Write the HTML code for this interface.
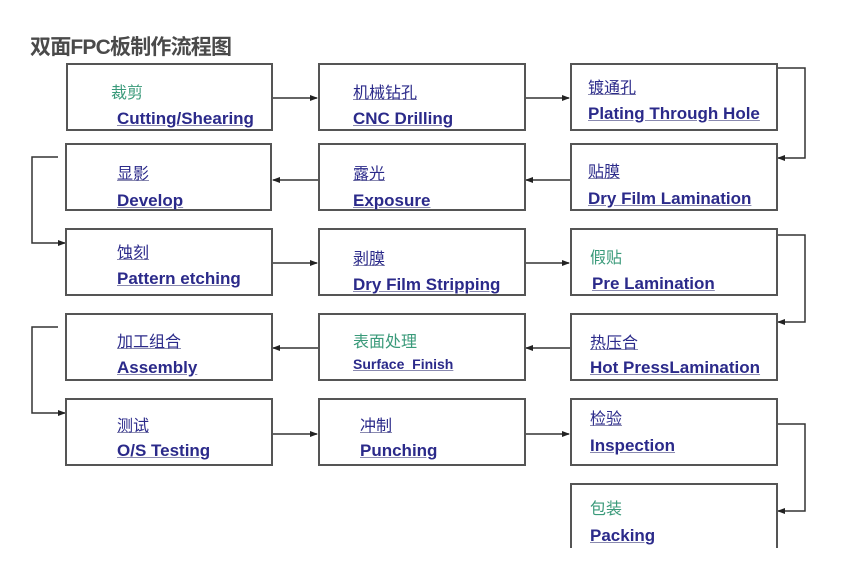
<!DOCTYPE html>
<html><head><meta charset="utf-8"><style>
body{margin:0;width:849px;height:582px;background:#fff;position:relative;overflow:hidden;font-family:"Liberation Sans","Noto Sans CJK SC",sans-serif}
.t{position:absolute;left:30px;top:31px;font-size:21px;color:#4a4a4a;font-weight:bold;letter-spacing:-0.8px}
.b{position:absolute;border:2px solid #555;box-sizing:border-box;background:#fff}
.c,.e{position:absolute;white-space:nowrap;color:#2b2a8a;text-decoration:underline;text-decoration-color:#8a8ab0}
.c{font-size:16px}
.e{font-size:17px;font-weight:bold}
.g{color:#3a9a7a;text-decoration:none}
svg{position:absolute;left:0;top:0}
</style></head><body>
<div class="t">双面FPC板制作流程图</div>
<svg width="849" height="582">
<defs><marker id="a" markerWidth="8" markerHeight="8" refX="7" refY="4" orient="auto" markerUnits="userSpaceOnUse"><path d="M0,1 L8,4 L0,7z" fill="#222"/></marker></defs>
<g stroke="#333" stroke-width="1.5" fill="none">
<path d="M272 98H317" marker-end="url(#a)"/>
<path d="M525 98H569" marker-end="url(#a)"/>
<path d="M777 68H805V158H778" marker-end="url(#a)"/>
<path d="M570 180H526" marker-end="url(#a)"/>
<path d="M318 180H273" marker-end="url(#a)"/>
<path d="M58 157H32V243H65" marker-end="url(#a)"/>
<path d="M272 263H317" marker-end="url(#a)"/>
<path d="M525 263H569" marker-end="url(#a)"/>
<path d="M777 235H805V322H778" marker-end="url(#a)"/>
<path d="M570 348H526" marker-end="url(#a)"/>
<path d="M318 348H273" marker-end="url(#a)"/>
<path d="M58 327H32V413H65" marker-end="url(#a)"/>
<path d="M272 434H317" marker-end="url(#a)"/>
<path d="M525 434H569" marker-end="url(#a)"/>
<path d="M777 424H805V511H778" marker-end="url(#a)"/>
</g></svg>

<div class="b" style="left:66px;top:63px;width:207px;height:68px"></div>
<div class="c g" style="left:111px;top:79px">裁剪</div>
<div class="e" style="left:117px;top:109px">Cutting/Shearing</div>
<div class="b" style="left:318px;top:63px;width:208px;height:68px"></div>
<div class="c" style="left:353px;top:79px">机械钻孔</div>
<div class="e" style="left:353px;top:109px">CNC Drilling</div>
<div class="b" style="left:570px;top:63px;width:208px;height:68px"></div>
<div class="c" style="left:588px;top:74px">镀通孔</div>
<div class="e" style="left:588px;top:104px">Plating Through Hole</div>

<div class="b" style="left:65px;top:143px;width:207px;height:68px"></div>
<div class="c" style="left:117px;top:160px">显影</div>
<div class="e" style="left:117px;top:191px">Develop</div>
<div class="b" style="left:318px;top:143px;width:208px;height:68px"></div>
<div class="c" style="left:353px;top:160px">露光</div>
<div class="e" style="left:353px;top:191px">Exposure</div>
<div class="b" style="left:570px;top:143px;width:208px;height:68px"></div>
<div class="c" style="left:588px;top:158px">贴膜</div>
<div class="e" style="left:588px;top:189px">Dry Film Lamination</div>

<div class="b" style="left:65px;top:228px;width:208px;height:68px"></div>
<div class="c" style="left:117px;top:239px">蚀刻</div>
<div class="e" style="left:117px;top:269px">Pattern etching</div>
<div class="b" style="left:318px;top:228px;width:208px;height:68px"></div>
<div class="c" style="left:353px;top:245px">剥膜</div>
<div class="e" style="left:353px;top:275px">Dry Film Stripping</div>
<div class="b" style="left:570px;top:228px;width:208px;height:68px"></div>
<div class="c g" style="left:590px;top:244px">假贴</div>
<div class="e" style="left:592px;top:274px">Pre Lamination</div>

<div class="b" style="left:65px;top:313px;width:208px;height:68px"></div>
<div class="c" style="left:117px;top:328px">加工组合</div>
<div class="e" style="left:117px;top:358px">Assembly</div>
<div class="b" style="left:318px;top:313px;width:208px;height:68px"></div>
<div class="c g" style="left:353px;top:328px">表面处理</div>
<div class="e" style="left:353px;top:356px;font-size:14px">Surface&nbsp; Finish</div>
<div class="b" style="left:570px;top:313px;width:208px;height:68px"></div>
<div class="c" style="left:590px;top:329px">热压合</div>
<div class="e" style="left:590px;top:358px">Hot PressLamination</div>

<div class="b" style="left:65px;top:398px;width:208px;height:68px"></div>
<div class="c" style="left:117px;top:412px">测试</div>
<div class="e" style="left:117px;top:441px">O/S Testing</div>
<div class="b" style="left:318px;top:398px;width:208px;height:68px"></div>
<div class="c" style="left:360px;top:412px">冲制</div>
<div class="e" style="left:360px;top:441px">Punching</div>
<div class="b" style="left:570px;top:398px;width:208px;height:68px"></div>
<div class="c" style="left:590px;top:405px">检验</div>
<div class="e" style="left:590px;top:436px">Inspection</div>

<div class="b" style="left:570px;top:483px;width:208px;height:80px;border-bottom:none"></div>
<div class="c g" style="left:590px;top:495px">包装</div>
<div class="e" style="left:590px;top:526px">Packing</div>
<div style="position:absolute;left:560px;top:548px;width:240px;height:34px;background:#fff"></div>
</body></html>
